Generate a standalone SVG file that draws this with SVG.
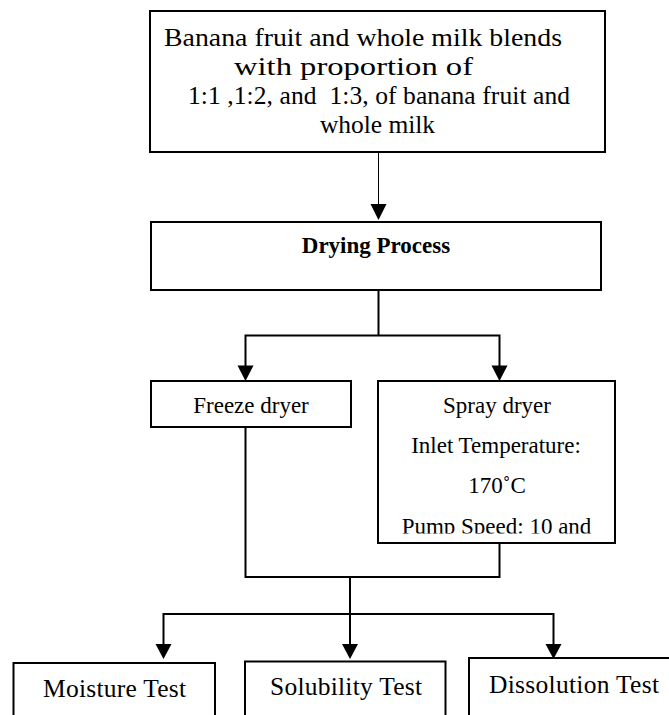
<svg xmlns="http://www.w3.org/2000/svg" width="669" height="715" viewBox="0 0 669 715">
<style>
.box{fill:#fff;stroke:#000;stroke-width:2}
.t{font-family:'Liberation Serif','Times New Roman',serif;fill:#000}
.s23{font-size:23px}
.s25{font-size:25.5px}
.c{fill:none;stroke:#000;stroke-width:2}
.thin{fill:none;stroke:#000;stroke-width:1}
.ah{fill:#000}
</style>
<defs>
<clipPath id="clipSpray"><rect x="378" y="381" width="238" height="152.5"/></clipPath>
</defs>
<rect width="669" height="715" fill="#fff"/>
<g id="connectors">
<line class="thin" x1="378.5" y1="152" x2="378.5" y2="205"/>
<polygon class="ah" points="370.5,204 386.5,204 378.5,220"/>
<path class="c" d="M378.5,290 V335.5 M245.5,366 V335.5 H499.5 V366"/>
<polygon class="ah" points="237.5,365.5 253.5,365.5 245.5,381"/>
<polygon class="ah" points="491.5,365.5 507.5,365.5 499.5,381"/>
<path class="c" d="M245.5,427 V577 H499.5 V543 M350,577 V645 M163.5,645 V614 H553.5 V645"/>
<polygon class="ah" points="155.5,644 171.5,644 163.5,659"/>
<polygon class="ah" points="342,644 358,644 350,659"/>
<polygon class="ah" points="545.5,644 561.5,644 553.5,659"/>
</g>
<g id="blend">
<rect class="box" x="150" y="11" width="455" height="141"/>
<text class="t s25" x="164" y="46" textLength="398" lengthAdjust="spacingAndGlyphs">Banana fruit and whole milk blends</text>
<text class="t s25" x="234" y="75" textLength="239" lengthAdjust="spacingAndGlyphs">with proportion of</text>
<text class="t s25" x="188" y="104" textLength="382" lengthAdjust="spacing" xml:space="preserve">1:1 ,1:2, and  1:3, of banana fruit and</text>
<text class="t s25" x="320" y="133" textLength="115" lengthAdjust="spacing">whole milk</text>
</g>
<g id="drying">
<rect class="box" x="151" y="222" width="450" height="68"/>
<text class="t s23" font-weight="bold" x="376" y="253" text-anchor="middle">Drying Process</text>
</g>
<g id="freeze">
<rect class="box" x="151" y="381" width="200" height="46"/>
<text class="t s23" x="251" y="413" text-anchor="middle">Freeze dryer</text>
</g>
<g id="spray">
<rect class="box" x="378" y="381" width="237" height="162"/>
<g clip-path="url(#clipSpray)">
<text class="t s23" x="497" y="413" text-anchor="middle">Spray dryer</text>
<text class="t s23" x="496" y="453" text-anchor="middle">Inlet Temperature:</text>
<text class="t s23" x="497" y="493" text-anchor="middle">170˚C</text>
<text class="t s23" x="496.5" y="534" text-anchor="middle">Pump Speed: 10 and</text>
</g>
</g>
<g id="moisture">
<rect class="box" x="13.5" y="663" width="201.5" height="70"/>
<text class="t s25" x="43" y="697" textLength="143" lengthAdjust="spacing">Moisture Test</text>
</g>
<g id="solubility">
<rect class="box" x="245" y="661.5" width="200.5" height="70"/>
<text class="t s25" x="270" y="695" textLength="152" lengthAdjust="spacing">Solubility Test</text>
</g>
<g id="dissolution">
<rect class="box" x="469" y="658" width="210" height="70"/>
<text class="t s25" x="489" y="693" textLength="170" lengthAdjust="spacing">Dissolution Test</text>
</g>
</svg>
